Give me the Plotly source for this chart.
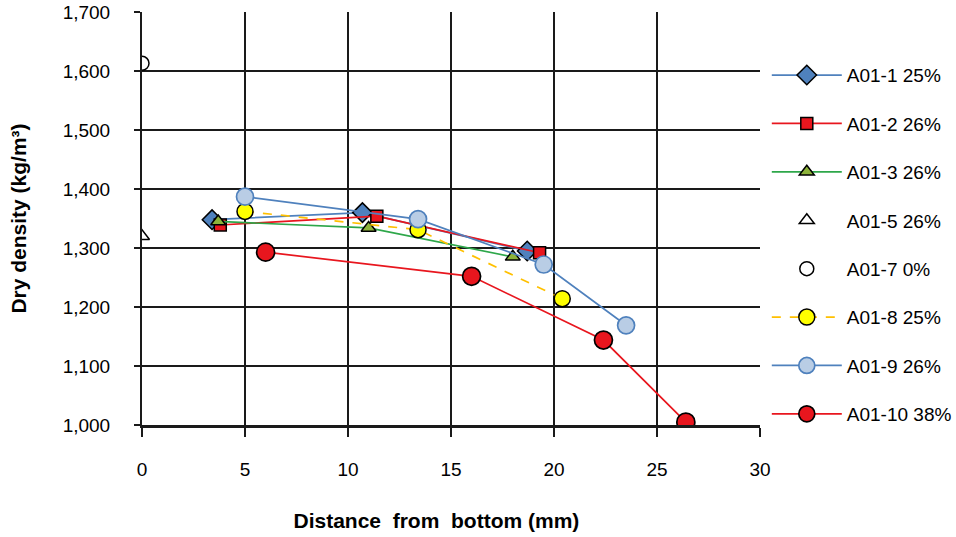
import plotly.graph_objects as go

names = ["A01-1 25%", "A01-2 26%", "A01-3 26%", "A01-5 26%", "A01-7 0%",
         "A01-8 25%", "A01-9 26%", "A01-10 38%"]

x_a01_1 = [3.4, 10.7, 18.7]
y_a01_1 = [1348, 1360, 1295]
x_a01_2 = [3.8, 11.4, 19.3]
y_a01_2 = [1339, 1354, 1292]
x_a01_3 = [3.7, 11.0, 18.0]
y_a01_3 = [1345, 1334, 1285]
x_a01_5 = [0.0]
y_a01_5 = [1320]
x_a01_7 = [0.0]
y_a01_7 = [1613]
x_a01_8 = [5.0, 13.4, 20.4]
y_a01_8 = [1362, 1331, 1214]
x_a01_9 = [5.0, 13.4, 19.5, 23.5]
y_a01_9 = [1387, 1349, 1272, 1169]
x_a01_10 = [6.0, 16.0, 22.4, 26.4]
y_a01_10 = [1293, 1252, 1144, 1005]

x_ticks = [0, 5, 10, 15, 20, 25, 30]
y_ticks = [1000, 1100, 1200, 1300, 1400, 1500, 1600, 1700]
y_tick_text = ["1,000", "1,100", "1,200", "1,300", "1,400", "1,500", "1,600", "1,700"]

BLUE = "#4F81BD"
RED = "#E8161E"
GREEN = "#2EA74A"

series = [
    dict(x=x_a01_1, y=y_a01_1, mode="lines+markers",
         line=dict(color=BLUE, width=1.7),
         marker=dict(symbol="diamond", size=15, color=BLUE, line=dict(color="black", width=1.5))),
    dict(x=x_a01_2, y=y_a01_2, mode="lines+markers",
         line=dict(color=RED, width=1.7),
         marker=dict(symbol="square", size=12, color=RED, line=dict(color="black", width=1.5))),
    dict(x=x_a01_3, y=y_a01_3, mode="lines+markers",
         line=dict(color=GREEN, width=1.7),
         marker=dict(symbol="triangle-up", size=13, color="#8DB33A", line=dict(color="black", width=1.5))),
    dict(x=x_a01_5, y=y_a01_5, mode="markers",
         marker=dict(symbol="triangle-up-open", size=13, color="black", line=dict(color="black", width=1.5))),
    dict(x=x_a01_7, y=y_a01_7, mode="markers",
         marker=dict(symbol="circle", size=14, color="white", line=dict(color="black", width=1.5))),
    dict(x=x_a01_8, y=y_a01_8, mode="lines+markers",
         line=dict(color="#FFC000", width=1.7, dash="dash"),
         marker=dict(symbol="circle", size=16, color="#FFFF00", line=dict(color="black", width=1.5))),
    dict(x=x_a01_9, y=y_a01_9, mode="lines+markers",
         line=dict(color=BLUE, width=1.7),
         marker=dict(symbol="circle", size=17, color="#B9CDE5", line=dict(color=BLUE, width=1.7))),
    dict(x=x_a01_10, y=y_a01_10, mode="lines+markers",
         line=dict(color=RED, width=1.7),
         marker=dict(symbol="circle", size=18, color=RED, line=dict(color="black", width=1.7))),
]

fig = go.Figure()
for i, (nm, s) in enumerate(zip(names, series)):
    fig.add_trace(go.Scatter(name=nm, legendgroup=str(i), **s))

fig.update_layout(
    width=956, height=537,
    margin=dict(l=142, r=196, t=12, b=112, autoexpand=False),
    paper_bgcolor="white", plot_bgcolor="white",
    font=dict(family="Liberation Sans, Arial, sans-serif", size=19, color="black"),
    showlegend=True,
    legend=dict(x=1.011, xanchor="left", y=0.893, yanchor="top",
                font=dict(size=19), tracegroupgap=20.7, itemwidth=70,
                bgcolor="rgba(0,0,0,0)"),
)
fig.update_xaxes(
    range=[0, 30], tickvals=x_ticks, showgrid=True, gridcolor="#1a1a1a", gridwidth=2,
    showline=True, linecolor="#1a1a1a", linewidth=3, mirror=False,
    ticks="outside", ticklen=9, tickwidth=2, tickcolor="#1a1a1a",
    zeroline=False, ticklabelstandoff=16,
    tickfont=dict(size=19),
    title=dict(text="<b>Distance  from  bottom (mm)&nbsp;&nbsp;&nbsp;&nbsp;&nbsp;</b>",
               font=dict(size=21), standoff=35),
)
fig.update_yaxes(
    range=[1000, 1700], tickvals=y_ticks, ticktext=y_tick_text,
    showgrid=True, gridcolor="#1a1a1a", gridwidth=2,
    showline=True, linecolor="#1a1a1a", linewidth=2,
    ticks="outside", ticklen=6, tickwidth=2, tickcolor="#1a1a1a",
    zeroline=False, ticklabelstandoff=20,
    tickfont=dict(size=19),
    title=dict(text="<b>Dry density (kg/m³)</b>", font=dict(size=21), standoff=30),
)

fig.write_html("out.html")
